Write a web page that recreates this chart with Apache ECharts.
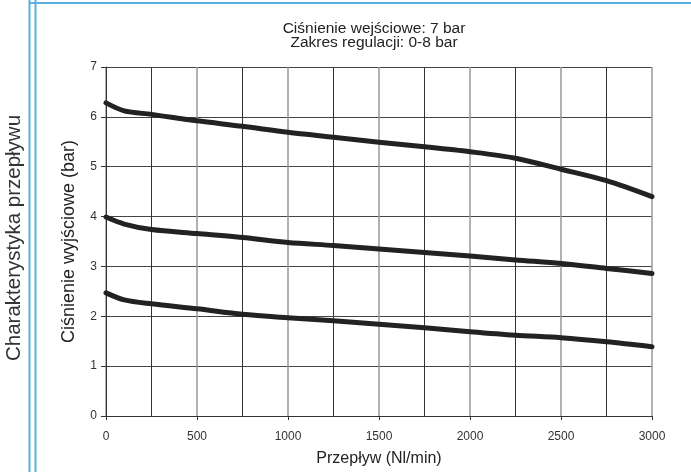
<!DOCTYPE html>
<html>
<head>
<meta charset="utf-8">
<script src="https://cdn.jsdelivr.net/npm/echarts@6/dist/echarts.min.js"></script>
<style>
html,body{margin:0;padding:0;background:#fff;}
#chart{width:691px;height:472px;}
</style>
</head>
<body>
<div id="chart"></div>
<script>
// Data
var flow = [0, 100, 250, 500, 750, 1000, 1250, 1500, 1750, 2000, 2250, 2500, 2750, 3000];
var curveHigh = [6.28, 6.12, 6.05, 5.92, 5.81, 5.69, 5.59, 5.49, 5.40, 5.30, 5.17, 4.95, 4.72, 4.40];
var curveMid  = [3.99, 3.85, 3.74, 3.66, 3.58, 3.48, 3.42, 3.35, 3.28, 3.21, 3.13, 3.06, 2.96, 2.86];
var curveLow  = [2.47, 2.33, 2.25, 2.15, 2.04, 1.97, 1.91, 1.84, 1.77, 1.69, 1.62, 1.57, 1.49, 1.39];

var titleText = 'Ciśnienie wejściowe: 7 bar\nZakres regulacji: 0-8 bar';
var sideText = 'Charakterystyka przepływu';
var xName = 'Przepływ (Nl/min)';
var yName = 'Ciśnienie wyjściowe (bar)';

function pairs(xs, ys) { return xs.map(function (x, i) { return [x, ys[i]]; }); }

var chart = echarts.init(document.getElementById('chart'), null, {renderer: 'canvas'});
var fontFam = 'Liberation Sans, Arial, sans-serif';
var lineStyle = {color: '#222', width: 5, cap: 'round', join: 'round'};

chart.setOption({
  animation: false,
  backgroundColor: '#fff',
  title: {
    text: titleText,
    left: 369, top: 17, textAlign: 'center',
    textStyle: {fontFamily: fontFam, fontSize: 15.5, fontWeight: 'normal', color: '#222', lineHeight: 14}
  },
  grid: {left: 106, right: 39, top: 67, bottom: 56},
  xAxis: {
    type: 'value', min: 0, max: 3000, interval: 500,
    name: xName, nameLocation: 'middle', nameGap: 35,
    nameTextStyle: {fontFamily: fontFam, fontSize: 16, color: '#222'},
    axisLine: {show: true, lineStyle: {color: '#333', width: 1}},
    axisTick: {show: true, length: 4, lineStyle: {color: '#333'}},
    axisLabel: {fontFamily: fontFam, fontSize: 12, color: '#333', margin: 15,
                formatter: function (v) { return String(v); }},
    splitLine: {show: true, lineStyle: {color: '#999', width: 1.5}},
    minorTick: {show: false, splitNumber: 2},
    minorSplitLine: {show: true, lineStyle: {color: '#333', width: 1}}
  },
  yAxis: {
    type: 'value', min: 0, max: 7, interval: 1,
    name: yName, nameLocation: 'middle', nameGap: 28, nameRotate: 90,
    nameTextStyle: {fontFamily: fontFam, fontSize: 18, color: '#222'},
    axisLine: {show: true, lineStyle: {color: '#333', width: 1}},
    axisTick: {show: true, length: 5, lineStyle: {color: '#333'}},
    axisLabel: {fontFamily: fontFam, fontSize: 12, color: '#333', margin: 9},
    splitLine: {show: true, lineStyle: {color: '#444', width: 1}}
  },
  graphic: [
    {type: 'line', shape: {x1: 29.5, y1: 0, x2: 29.5, y2: 472}, style: {stroke: '#5ab0e0', lineWidth: 2}, z: 10},
    {type: 'line', shape: {x1: 35.5, y1: 0, x2: 35.5, y2: 472}, style: {stroke: '#5ab0e0', lineWidth: 2}, z: 10},
    {type: 'line', shape: {x1: 29, y1: 3, x2: 691, y2: 3}, style: {stroke: '#5ab0e0', lineWidth: 2}, z: 10},
    {type: 'text', x: 14, y: 238, rotation: Math.PI / 2,
     style: {text: sideText, fontFamily: fontFam, fontSize: 20.5, fill: '#333', textAlign: 'center', textVerticalAlign: 'middle'}, z: 10}
  ],
  series: [
    {type: 'line', data: pairs(flow, curveHigh), smooth: 0.3, showSymbol: false, lineStyle: lineStyle, z: 5},
    {type: 'line', data: pairs(flow, curveMid), smooth: 0.3, showSymbol: false, lineStyle: lineStyle, z: 5},
    {type: 'line', data: pairs(flow, curveLow), smooth: 0.3, showSymbol: false, lineStyle: lineStyle, z: 5}
  ]
});
</script>
</body>
</html>
